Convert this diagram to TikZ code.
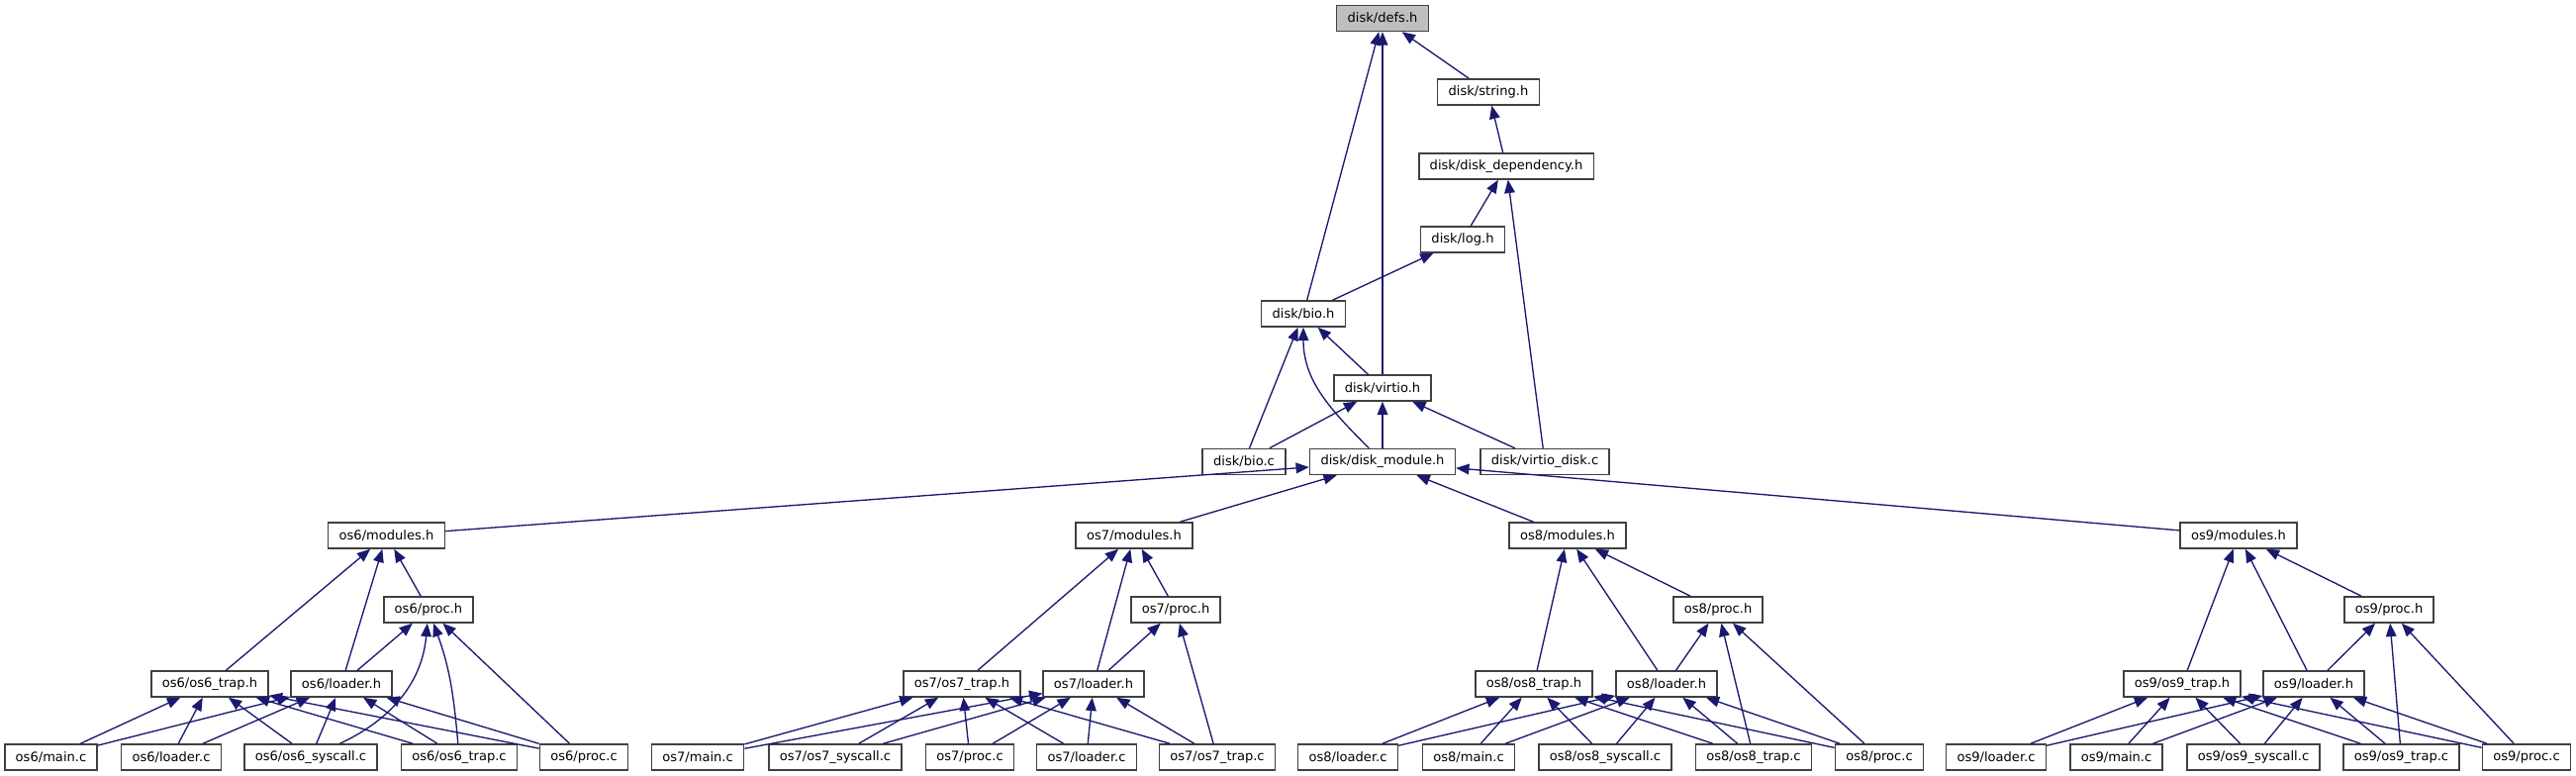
\documentclass[tikz,border=0pt]{standalone}
\usepackage{fontspec}
\setmainfont{DejaVu Sans}
\usepackage{tikz}
\usetikzlibrary{arrows.meta}
\definecolor{edgeblue}{RGB}{25,25,112}
\definecolor{boxgrey}{RGB}{64,64,64}
\definecolor{rootgrey}{RGB}{191,191,191}

\begin{document}
\begin{tikzpicture}[x=0.75pt, y=0.75pt,
        file/.style={rectangle, draw=boxgrey, fill=white, line width=1.1pt, minimum height=19.5pt, inner xsep=8.2pt, inner ysep=0pt, font=\fontsize{9.8pt}{11pt}\selectfont},
        root/.style={file, fill=rootgrey},
        inc/.style={draw=edgeblue, line width=1pt, -{Triangle[length=10pt, width=8pt]}}]

        \useasboundingbox (0,0) rectangle (2603,-784);

        \node [root] (defs) at (1397,-18.5) {disk/defs.h};
        \node [file] (string) at (1504,-93) {disk/string.h};
        \node [file] (dep) at (1522,-168) {disk/disk\_dependency.h};
        \node [file] (log) at (1478,-242) {disk/log.h};
        \node [file] (bioh) at (1317,-317) {disk/bio.h};
        \node [file] (virtio) at (1397,-392) {disk/virtio.h};
        \node [file] (bioc) at (1257,-466.5) {disk/bio.c};
        \node [file] (dmod) at (1397,-466.5) {disk/disk\_module.h};
        \node [file] (vdisk) at (1561,-466.5) {disk/virtio\_disk.c};

        \node [file] (modsix) at (390.5,-541) {os6/modules.h};
        \node [file] (procsix) at (433,-616) {os6/proc.h};
        \node [file] (trapsix) at (212,-691) {os6/os6\_trap.h};
        \node [file] (loadsix) at (345,-691) {os6/loader.h};
        \node [file] (mainsix) at (51.5,-765) {os6/main.c};
        \node [file] (ldcsix) at (173,-765) {os6/loader.c};
        \node [file] (syssix) at (314,-765) {os6/os6\_syscall.c};
        \node [file] (trapcsix) at (464,-765) {os6/os6\_trap.c};
        \node [file] (proccsix) at (590,-765) {os6/proc.c};

        \node [file] (modseven) at (1146,-541) {os7/modules.h};
        \node [file] (procseven) at (1188,-616) {os7/proc.h};
        \node [file] (trapseven) at (972,-691) {os7/os7\_trap.h};
        \node [file] (loadseven) at (1105,-691) {os7/loader.h};
        \node [file] (mainseven) at (705,-765) {os7/main.c};
        \node [file] (sysseven) at (844,-765) {os7/os7\_syscall.c};
        \node [file] (proccseven) at (980,-765) {os7/proc.c};
        \node [file] (ldcseven) at (1098,-765) {os7/loader.c};
        \node [file] (trapcseven) at (1230,-765) {os7/os7\_trap.c};

        \node [file] (modeight) at (1584,-541) {os8/modules.h};
        \node [file] (proceight) at (1736,-616) {os8/proc.h};
        \node [file] (trapeight) at (1550,-691) {os8/os8\_trap.h};
        \node [file] (loadeight) at (1684,-691) {os8/loader.h};
        \node [file] (ldceight) at (1362,-765) {os8/loader.c};
        \node [file] (maineight) at (1484,-765) {os8/main.c};
        \node [file] (syseight) at (1622,-765) {os8/os8\_syscall.c};
        \node [file] (trapceight) at (1772,-765) {os8/os8\_trap.c};
        \node [file] (procceight) at (1899,-765) {os8/proc.c};

        \node [file] (modnine) at (2262,-541) {os9/modules.h};
        \node [file] (procnine) at (2414,-616) {os9/proc.h};
        \node [file] (trapnine) at (2205,-691) {os9/os9\_trap.h};
        \node [file] (loadnine) at (2338,-691) {os9/loader.h};
        \node [file] (ldcnine) at (2017,-765) {os9/loader.c};
        \node [file] (mainnine) at (2138.5,-765) {os9/main.c};
        \node [file] (sysnine) at (2277,-765) {os9/os9\_syscall.c};
        \node [file] (trapcnine) at (2426.5,-765) {os9/os9\_trap.c};
        \node [file] (proccnine) at (2553,-765) {os9/proc.c};

        \path [inc] (string) -- (defs);
        \path [inc] (bioh) -- (defs);
        \path [inc] (virtio) -- (defs);
        \path [inc] (dep) -- (string);
        \path [inc] (log) -- (dep);
        \path [inc] (vdisk) -- (dep);
        \path [inc] (bioh) -- (log);
        \path [inc] (virtio) -- (bioh);
        \path [inc] (bioc) -- (bioh);
        \path [inc] (dmod) to [out=135, in=-90] (bioh);
        \path [inc] (bioc) -- (virtio);
        \path [inc] (dmod) -- (virtio);
        \path [inc] (vdisk) -- (virtio);
        \path [inc] (modsix) -- (dmod);
        \path [inc] (modseven) -- (dmod);
        \path [inc] (modeight) -- (dmod);
        \path [inc] (modnine) -- (dmod);

        \path [inc] (trapsix) -- (modsix);
        \path [inc] (loadsix) -- (modsix);
        \path [inc] (procsix) -- (modsix);
        \path [inc] (loadsix) -- (procsix);
        \path [inc] (syssix) to [out=25, in=-95] (procsix);
        \path [inc] (trapcsix) to [out=95, in=-70] (procsix);
        \path [inc] (proccsix) -- (procsix);
        \path [inc] (mainsix) -- (trapsix);
        \path [inc] (mainsix) -- (loadsix);
        \path [inc] (ldcsix) -- (trapsix);
        \path [inc] (ldcsix) -- (loadsix);
        \path [inc] (syssix) -- (trapsix);
        \path [inc] (syssix) -- (loadsix);
        \path [inc] (trapcsix) -- (trapsix);
        \path [inc] (trapcsix) -- (loadsix);
        \path [inc] (proccsix) -- (trapsix);
        \path [inc] (proccsix) -- (loadsix);

        \path [inc] (trapseven) -- (modseven);
        \path [inc] (loadseven) -- (modseven);
        \path [inc] (procseven) -- (modseven);
        \path [inc] (loadseven) -- (procseven);
        \path [inc] (trapcseven) -- (procseven);
        \path [inc] (mainseven) -- (trapseven);
        \path [inc] (mainseven) -- (loadseven);
        \path [inc] (sysseven) -- (trapseven);
        \path [inc] (sysseven) -- (loadseven);
        \path [inc] (proccseven) -- (trapseven);
        \path [inc] (proccseven) -- (loadseven);
        \path [inc] (ldcseven) -- (trapseven);
        \path [inc] (ldcseven) -- (loadseven);
        \path [inc] (trapcseven) -- (trapseven);
        \path [inc] (trapcseven) -- (loadseven);

        \path [inc] (trapeight) -- (modeight);
        \path [inc] (loadeight) -- (modeight);
        \path [inc] (proceight) -- (modeight);
        \path [inc] (loadeight) -- (proceight);
        \path [inc] (trapceight) -- (proceight);
        \path [inc] (procceight) -- (proceight);
        \path [inc] (ldceight) -- (trapeight);
        \path [inc] (ldceight) -- (loadeight);
        \path [inc] (maineight) -- (trapeight);
        \path [inc] (maineight) -- (loadeight);
        \path [inc] (syseight) -- (trapeight);
        \path [inc] (syseight) -- (loadeight);
        \path [inc] (trapceight) -- (trapeight);
        \path [inc] (trapceight) -- (loadeight);
        \path [inc] (procceight) -- (trapeight);
        \path [inc] (procceight) -- (loadeight);

        \path [inc] (trapnine) -- (modnine);
        \path [inc] (loadnine) -- (modnine);
        \path [inc] (procnine) -- (modnine);
        \path [inc] (loadnine) -- (procnine);
        \path [inc] (trapcnine) -- (procnine);
        \path [inc] (proccnine) -- (procnine);
        \path [inc] (ldcnine) -- (trapnine);
        \path [inc] (ldcnine) -- (loadnine);
        \path [inc] (mainnine) -- (trapnine);
        \path [inc] (mainnine) -- (loadnine);
        \path [inc] (sysnine) -- (trapnine);
        \path [inc] (sysnine) -- (loadnine);
        \path [inc] (trapcnine) -- (trapnine);
        \path [inc] (trapcnine) -- (loadnine);
        \path [inc] (proccnine) -- (trapnine);
        \path [inc] (proccnine) -- (loadnine);
    \end{tikzpicture}
\end{document}
